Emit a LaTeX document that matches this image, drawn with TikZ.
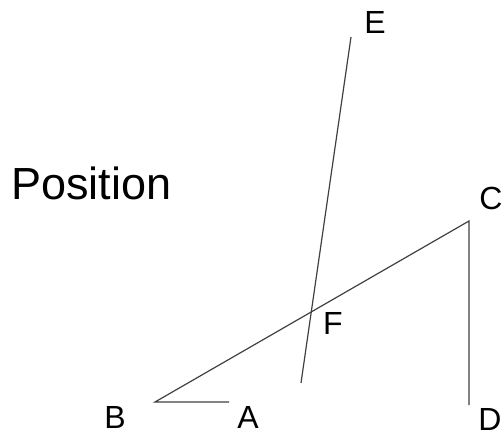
\documentclass[tikz,border=0pt]{standalone}
\usepackage{fontspec}
\setmainfont{Liberation Sans}
\begin{document}
\begin{tikzpicture}[x=1pt,y=-1pt,
  seg/.style={draw=black!75,line width=1.2pt},
  lbl/.style={inner sep=0pt,font=\fontsize{32}{36}\selectfont}]
\useasboundingbox (0,0) rectangle (504,437);
\coordinate (pB) at (155,402);
\coordinate (pA) at (229,402);
\coordinate (pC) at (469,221);
\coordinate (pD) at (469,405);
\coordinate (pE) at (351,37);
\coordinate (pG) at (301,383);
\draw[seg] (pA) -- (pB) -- (pC) -- (pD);
\draw[seg] (pE) -- (pG);
\node[lbl] (lB) at (115,417) {B};
\node[lbl] (lA) at (248,417) {A};
\node[lbl] (lC) at (491,198) {C};
\node[lbl] (lD) at (490,419) {D};
\node[lbl] (lE) at (375,22) {E};
\node[lbl] (lF) at (333,323) {F};
\node[inner sep=0pt,anchor=west,font=\fontsize{45}{50}\selectfont] (title) at (11,183) {Position};
\end{tikzpicture}
\end{document}
